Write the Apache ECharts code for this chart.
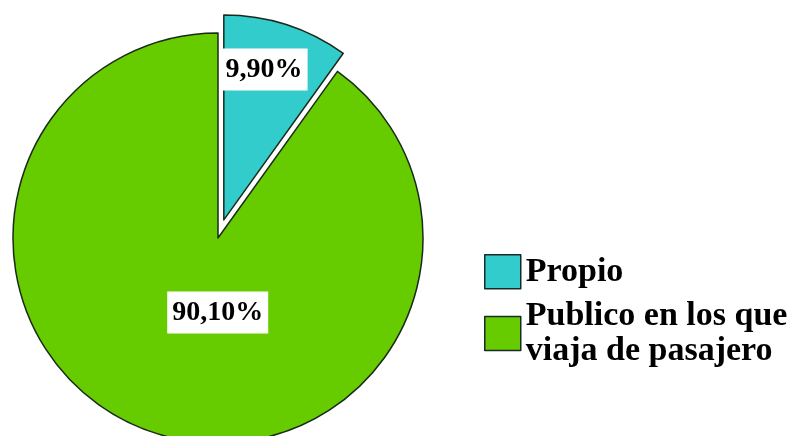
<!DOCTYPE html>
<html>
<head>
<meta charset="utf-8">
<script src="https://cdn.jsdelivr.net/npm/echarts@6/dist/echarts.min.js"></script>
<style>html,body{margin:0;padding:0;background:#fff;}#c{width:811px;height:436px;}</style>
</head>
<body>
<div id="c"></div>
<script>
const categories = ['Propio', 'Publico en los que\nviaja de pasajero'];
const values = [9.90, 90.10];
const colors = ['#33CCCC', '#66CC00'];

const labelOffsets = [[8, -50], [32, -26]];
const data = categories.map((name, i) => ({
  name: name,
  value: values[i],
  selected: i === 0,
  itemStyle: { color: colors[i] },
  label: { offset: labelOffsets[i] },
  select: { label: { offset: labelOffsets[i] } }
}));

const chart = echarts.init(document.getElementById('c'), null, { renderer: 'canvas' });
chart.setOption({
  animation: false,
  backgroundColor: '#ffffff',
  legend: {
    orient: 'vertical',
    left: 484,
    top: 254,
    padding: 0,
    itemWidth: 36,
    itemHeight: 34,
    itemGap: 9,
    icon: 'rect',
    selectedMode: false,
    itemStyle: { borderColor: '#1a2a2a', borderWidth: 1.5 },
    textStyle: {
      fontFamily: 'Liberation Serif',
      fontWeight: 'bold',
      fontSize: 34,
      lineHeight: 35,
      color: '#000'
    },
    data: categories
  },
  series: [{
    type: 'pie',
    center: [218, 238],
    radius: 205,
    startAngle: 90,
    clockwise: true,
    selectedMode: 'single',
    selectedOffset: 19,
    avoidLabelOverlap: false,
    itemStyle: { borderColor: '#1a2a1a', borderWidth: 1.5 },
    emphasis: { disabled: true },
    label: {
      show: true,
      position: 'inside',
      formatter: p => p.value.toFixed(2).replace('.', ',') + '%',
      fontFamily: 'Liberation Serif',
      fontWeight: 'bold',
      fontSize: 28,
      lineHeight: 30,
      color: '#000',
      backgroundColor: '#ffffff',
      padding: [6, 5]
    },
    labelLine: { show: false },
    data: data
  }]
});
</script>
</body>
</html>
